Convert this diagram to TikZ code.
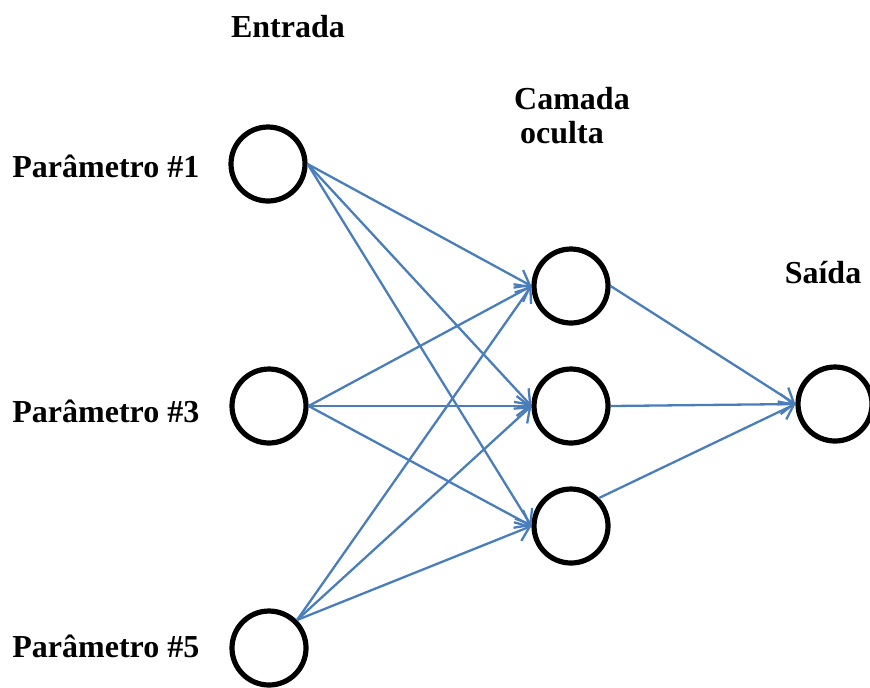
\documentclass[tikz,border=0pt]{standalone}
\usepackage{fontspec}
\setmainfont{Liberation Serif}
\usetikzlibrary{arrows.meta}
\definecolor{linkblue}{HTML}{4A7EBB}
\begin{document}
\begin{tikzpicture}[x=0.5pt,y=-0.5pt,
  neuron/.style={circle,draw=black,line width=2.6pt,minimum size=37pt,inner sep=0pt,fill=white},
  lbl/.style={font=\fontsize{16}{19}\selectfont\bfseries,inner sep=0pt},
  link/.style={draw=linkblue,line width=1.15pt,-{Straight Barb[length=6.5pt,width=10pt,line width=1.15pt]}}]
\useasboundingbox (0,0) rectangle (870,687);
\node[neuron] (i1) at (268,164) {};
\node[neuron] (i3) at (269,406) {};
\node[neuron] (i5) at (269,648) {};
\node[neuron] (h1) at (571,286) {};
\node[neuron] (h2) at (571,406) {};
\node[neuron] (h3) at (571,526) {};
\node[neuron] (o) at (835,404) {};
\node[lbl,anchor=base] (tE) at (288,37) {Entrada};
\node[lbl,anchor=base] (tC) at (572,109) {Camada};
\node[lbl,anchor=base] (tO) at (562,143) {oculta};
\node[lbl,anchor=base] (tS) at (823,283) {Saída};
\node[lbl,anchor=base west] (p1) at (12,177) {Parâmetro \#1};
\node[lbl,anchor=base west] (p3) at (12,422) {Parâmetro \#3};
\node[lbl,anchor=base west] (p5) at (12,657) {Parâmetro \#5};
\foreach \h in {h1,h2,h3}{
  \draw[link] (i1.east) -- (\h.west);
  \draw[link] (i3.east) -- (\h.west);
  \draw[link] (i5.north east) -- (\h.west);
}
\draw[link] (h1.east) -- (o.west);
\draw[link] (h2.east) -- (o.west);
\draw[link] (h3.north east) -- (o.west);
\end{tikzpicture}
\end{document}
